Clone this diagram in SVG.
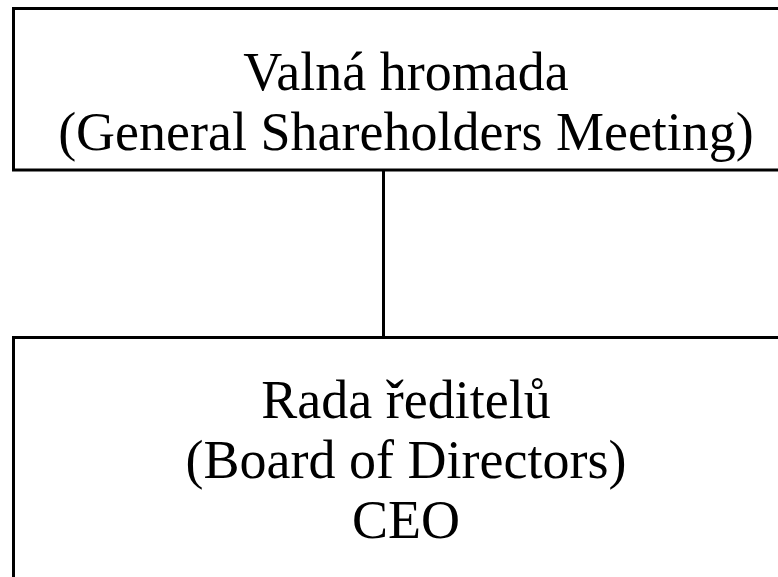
<svg xmlns="http://www.w3.org/2000/svg" width="778" height="577" viewBox="0 0 778 577">
<style>
.box{fill:#fff;stroke:#000;stroke-width:3}
.t{font-family:"Liberation Serif","Times New Roman",serif;font-size:54px;fill:#000;text-anchor:middle}
.c{stroke:#000;stroke-width:3;fill:none}
</style>
<rect width="778" height="577" fill="#fff"/>
<g id="connectors">
<line class="c" x1="383.5" y1="170" x2="383.5" y2="337.5"/>
</g>
<g id="node-valna-hromada">
<rect class="box" x="13.5" y="8.5" width="800" height="161.5"/>
<text class="t" x="406" y="90">Valná hromada</text>
<text class="t" x="406" y="150">(General Shareholders Meeting)</text>
</g>
<g id="node-rada-reditelu">
<rect class="box" x="13.5" y="337.5" width="800" height="300"/>
<text class="t" x="406" y="418">Rada ředitelů</text>
<text class="t" x="406" y="478">(Board of Directors)</text>
<text class="t" x="406" y="538">CEO</text>
</g>
</svg>
